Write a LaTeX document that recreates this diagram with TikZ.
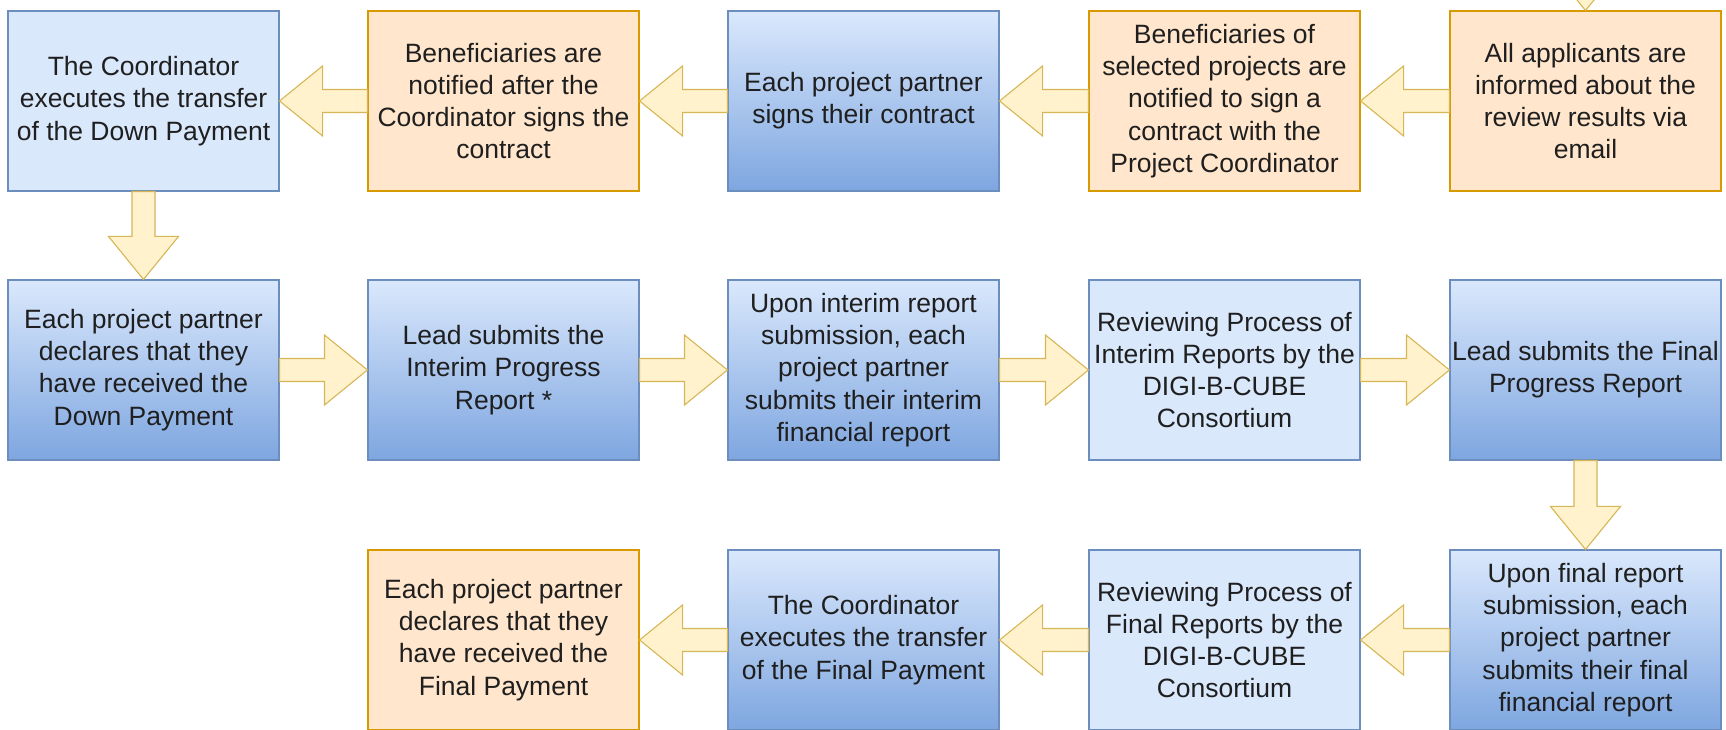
\documentclass[tikz,border=0pt]{standalone}
\usepackage{fontspec}
\setmainfont{Liberation Sans}
\usetikzlibrary{calc}
\definecolor{lbfill}{HTML}{DAE8FC}
\definecolor{lbdraw}{HTML}{6C8EBF}
\definecolor{gradtop}{HTML}{DAE8FC}
\definecolor{gradbot}{HTML}{7EA6E0}
\definecolor{orfill}{HTML}{FFE6CC}
\definecolor{ordraw}{HTML}{D79B00}
\definecolor{arfill}{HTML}{FFF2CC}
\definecolor{ardraw}{HTML}{D6B656}
\definecolor{txt}{HTML}{1F1F1F}
\tikzset{
  box/.style={rectangle, minimum width=271pt, minimum height=180pt, inner sep=2pt,
    align=center, line width=1.1pt, text=txt,
    font=\fontsize{26.5}{32.3}\selectfont},
  lightbox/.style={box, draw=lbdraw, fill=lbfill},
  gradbox/.style={box, draw=lbdraw, top color=gradtop, bottom color=gradbot},
  orangebox/.style={box, draw=ordraw, fill=orfill},
  blockarrow/.style={draw=ardraw, fill=arfill, line width=1.1pt, line join=miter}
}
\newcommand{\fatarrow}[2]{%
  \coordinate (fa-h) at ($(#2)!43pt!(#1)$);
  \draw[blockarrow] ($(#1)!11.5pt!90:(#2)$) -- ($(fa-h)!11.5pt!90:(#2)$) -- ($(fa-h)!35pt!90:(#2)$) -- (#2) -- ($(fa-h)!35pt!-90:(#2)$) -- ($(fa-h)!11.5pt!-90:(#2)$) -- ($(#1)!11.5pt!-90:(#2)$) -- cycle;
}
\begin{document}
\begin{tikzpicture}[x=1pt,y=1pt]
\useasboundingbox (0,0) rectangle (1726,730);
% row 1
\node[lightbox]  (r1c1) at (143.5,629) {The Coordinator\\executes the transfer\\of the Down Payment};
\node[orangebox] (r1c2) at (503.5,629) {Beneficiaries are\\notified after the\\Coordinator signs the\\contract};
\node[gradbox]   (r1c3) at (863.5,629) {Each project partner\\signs their contract};
\node[orangebox] (r1c4) at (1224.5,629) {Beneficiaries of\\selected projects are\\notified to sign a\\contract with the\\Project Coordinator};
\node[orangebox] (r1c5) at (1585.5,629) {All applicants are\\informed about the\\review results via\\email};
% row 2
\node[gradbox]   (r2c1) at (143.5,360) {Each project partner\\declares that they\\have received the\\Down Payment};
\node[gradbox]   (r2c2) at (503.5,360) {Lead submits the\\Interim Progress\\Report *};
\node[gradbox]   (r2c3) at (863.5,360) {Upon interim report\\submission, each\\project partner\\submits their interim\\financial report};
\node[lightbox]  (r2c4) at (1224.5,360) {Reviewing Process of\\Interim Reports by the\\DIGI-B-CUBE\\Consortium};
\node[gradbox]   (r2c5) at (1585.5,360) {Lead submits the Final\\Progress Report};
% row 3
\node[gradbox]   (r3c5) at (1585.5,90) {Upon final report\\submission, each\\project partner\\submits their final\\financial report};
\node[lightbox]  (r3c4) at (1224.5,90) {Reviewing Process of\\Final Reports by the\\DIGI-B-CUBE\\Consortium};
\node[gradbox]   (r3c3) at (863.5,90) {The Coordinator\\executes the transfer\\of the Final Payment};
\node[orangebox] (r3c2) at (503.5,90) {Each project partner\\declares that they\\have received the\\Final Payment};
% arrows
\coordinate (topin) at (1585.5,808);
\fatarrow{topin}{r1c5.north}
\fatarrow{r1c5.west}{r1c4.east}
\fatarrow{r1c4.west}{r1c3.east}
\fatarrow{r1c3.west}{r1c2.east}
\fatarrow{r1c2.west}{r1c1.east}
\fatarrow{r1c1.south}{r2c1.north}
\fatarrow{r2c1.east}{r2c2.west}
\fatarrow{r2c2.east}{r2c3.west}
\fatarrow{r2c3.east}{r2c4.west}
\fatarrow{r2c4.east}{r2c5.west}
\fatarrow{r2c5.south}{r3c5.north}
\fatarrow{r3c5.west}{r3c4.east}
\fatarrow{r3c4.west}{r3c3.east}
\fatarrow{r3c3.west}{r3c2.east}
\end{tikzpicture}
\end{document}
